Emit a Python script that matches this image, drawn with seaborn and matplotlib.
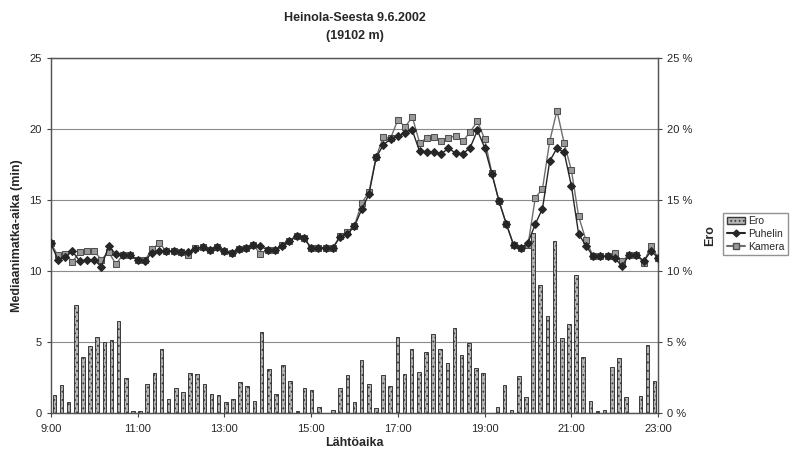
#mediaanimatka-aika Heinola-Seesta 9.6.2002

import numpy as np
import matplotlib
matplotlib.use('Agg')
import matplotlib.pyplot as plt
from matplotlib.patches import Patch
from matplotlib.lines import Line2D
import seaborn as sns

#data: lähtöaika 9:00-23:00 kymmenen minuutin välein
lahtoaika = ['%d:%02d' % (9 + i // 6, (i % 6) * 10) for i in range(85)]

puhelin = [11.95, 10.8, 11.0, 11.4, 10.7, 10.8, 10.8, 10.3, 11.75, 11.2,
           11.15, 11.1, 10.8, 10.7, 11.3, 11.4, 11.4, 11.4, 11.35, 11.35,
           11.55, 11.7, 11.5, 11.7, 11.4, 11.25, 11.55, 11.6, 11.85, 11.75,
           11.5, 11.45, 11.8, 12.1, 12.45, 12.3, 11.65, 11.65, 11.65, 11.6,
           12.4, 12.6, 13.15, 14.35, 15.4, 18.0, 18.9, 19.3, 19.5, 19.7,
           19.9, 18.45, 18.4, 18.35, 18.25, 18.65, 18.3, 18.25, 18.7, 19.9,
           18.7, 16.85, 14.9, 13.3, 11.85, 11.6, 12.0, 13.3, 14.4, 17.75,
           18.65, 18.35, 16.0, 12.6, 11.8, 11.05, 11.05, 11.05, 10.9, 10.35,
           11.15, 11.15, 10.7, 11.4, 10.95]

kamera = [11.95, 11.1, 11.2, 10.65, 11.35, 11.4, 11.4, 10.8, 11.35, 10.5,
          11.15, 11.1, 10.8, 10.75, 11.55, 11.95, 11.4, 11.4, 11.35, 11.1,
          11.6, 11.7, 11.5, 11.7, 11.4, 11.25, 11.55, 11.6, 11.85, 11.2,
          11.5, 11.45, 11.85, 12.15, 12.5, 12.35, 11.65, 11.65, 11.65, 11.65,
          12.45, 12.75, 13.2, 14.8, 15.55, 18.05, 19.45, 19.35, 20.65, 20.15,
          20.85, 19.05, 19.35, 19.45, 19.15, 19.4, 19.5, 19.15, 19.8, 20.55,
          19.3, 16.9, 14.9, 13.35, 11.85, 11.6, 11.85, 15.15, 15.8, 19.15,
          21.3, 19.0, 17.1, 13.85, 12.2, 11.05, 11.05, 11.05, 11.25, 10.7,
          11.15, 11.15, 10.6, 11.75, 10.95]

#ero prosentteina
ero = [1.31, 1.98, 0.79, 7.62, 3.95, 4.76, 5.33, 4.98, 5.14, 6.48,
       2.45, 0.17, 0.17, 2.02, 2.86, 4.55, 1.02, 1.76, 1.5, 2.86,
       2.74, 2.05, 1.36, 1.31, 0.76, 1.02, 2.19, 1.9, 0.86, 5.71,
       3.14, 1.36, 3.38, 2.26, 0.15, 1.79, 1.61, 0.43, 0.0, 0.24,
       1.79, 2.67, 0.76, 3.71, 2.05, 0.36, 2.67, 1.88, 5.33, 2.74,
       4.5, 2.88, 4.33, 5.6, 4.52, 3.52, 6.0, 4.1, 4.95, 3.17,
       2.81, 0.0, 0.43, 2.0, 0.24, 2.6, 1.12, 12.67, 9.05, 6.83,
       12.1, 5.29, 6.24, 9.69, 3.98, 0.86, 0.12, 0.24, 3.26, 3.86,
       1.14, 0.0, 1.19, 4.83, 2.26]

x_tunnit = ['%d:00' % h for h in range(9, 24, 2)]

#aika tunteina
def tunnit(s):
    h, m = s.split(':')
    return int(h) + int(m) / 60

t = np.array([tunnit(s) for s in lahtoaika])
n = len(ero)
#pylväät luokkien keskelle (kuten excelissä)
t_bar = 9 + (np.arange(n) + 0.5) * 14 / n

sns.set_style('white')
plt.rcParams['font.family'] = ['Liberation Sans', 'DejaVu Sans']
plt.rcParams['hatch.color'] = '#3a3a3a'
plt.rcParams['hatch.linewidth'] = 0.8

fig = plt.figure(figsize=(7.93, 4.57), dpi=100)
ax = fig.add_axes([0.064, 0.096, 0.766, 0.777])
ax2 = ax.twinx()

#plot bar (oikea akseli)
sns.barplot(x=t_bar, y=ero, native_scale=True, width=0.5, ax=ax2,
            color='#b4b4b4', edgecolor='#3a3a3a', linewidth=0.7,
            saturation=1, zorder=2)
for p in ax2.patches:
    p.set_hatch('....')
ax2.set_ylim(0, 25)
ax2.set_yticks(range(0, 26, 5))
ax2.set_yticklabels(['%d %%' % v for v in range(0, 26, 5)])
ax2.yaxis.grid(True, color='#8a8a8a', linewidth=0.8, zorder=0)
ax2.set_axisbelow(True)
ax2.set_ylabel('Ero', fontsize=9, fontweight='bold')
ax2.yaxis.set_label_coords(1.075, 0.5)

#plot viivat (vasen akseli)
ax.set_zorder(ax2.get_zorder() + 1)
ax.patch.set_visible(False)
sns.lineplot(x=t, y=puhelin, ax=ax, color='#262626', marker='D',
             markersize=4, markeredgecolor='#262626', linewidth=1.0,
             zorder=4)
sns.lineplot(x=t, y=kamera, ax=ax, color='#6e6e6e', marker='s',
             markersize=4.8, markerfacecolor='#9a9a9a', markeredgecolor='#505050',
             linewidth=1.0, zorder=3)

ax.set_xlim(9, 23)
ax.set_ylim(0, 25)
ax.set_yticks(range(0, 26, 5))
ax.set_xticks(range(9, 24, 2))
ax.set_xticklabels(x_tunnit)
ax.set_xlabel('Lähtöaika', fontsize=9, fontweight='bold', labelpad=2)
ax.set_ylabel('Mediaanimatka-aika (min)', fontsize=9, fontweight='bold')
ax.yaxis.set_label_coords(-0.045, 0.5)
ax.set_title('Heinola-Seesta 9.6.2002\n(19102 m)', fontsize=9,
             fontweight='bold', pad=14, linespacing=1.6)

for a in (ax, ax2):
    a.tick_params(axis='both', labelsize=8, length=3, direction='out',
                  color='#444444')
    for s in a.spines.values():
        s.set_color('#555555')
        s.set_linewidth(0.9)
ax.tick_params(axis='x', bottom=True, pad=5)
ax.tick_params(axis='y', left=True)
ax2.tick_params(axis='y', right=True)

#legenda
kahvat = [Patch(facecolor='#b4b4b4', edgecolor='#3a3a3a', hatch='....',
                label='Ero'),
          Line2D([], [], color='#262626', marker='D', markersize=3.5,
                 label='Puhelin'),
          Line2D([], [], color='#6e6e6e', marker='s', markersize=4,
                 markerfacecolor='#9a9a9a', markeredgecolor='#505050',
                 label='Kamera')]
fig.legend(handles=kahvat, loc='center left', bbox_to_anchor=(0.912, 0.488),
           fontsize=7.5, frameon=True, fancybox=False, edgecolor='#777777',
           handlelength=1.7, borderpad=0.35, labelspacing=0.25,
           handletextpad=0.3, borderaxespad=0)

fig.savefig('out.png', dpi=100)
